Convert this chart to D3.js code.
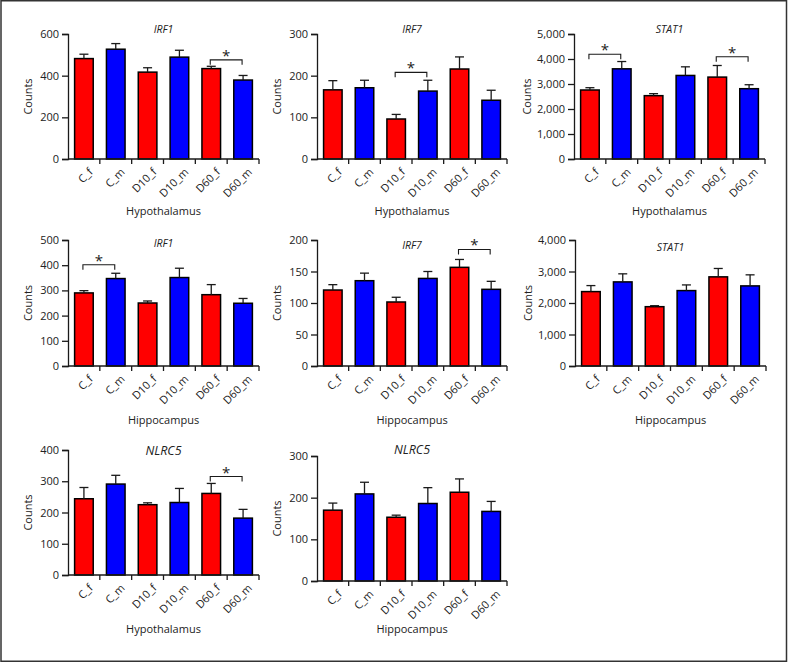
<!DOCTYPE html>
<html>
<head>
<meta charset="utf-8">
<script src="https://cdn.jsdelivr.net/npm/d3@7"></script>
<style>
  html, body { margin: 0; padding: 0; background: #fff; }
  svg { display: block; font-family: "Open Sans", "DejaVu Sans", sans-serif; }
</style>
</head>
<body>
<svg id="chart" width="788" height="663"></svg>
<script>
// ---------- data ----------
const categories = ["C_f", "C_m", "D10_f", "D10_m", "D60_f", "D60_m"];
const sexes = ["f", "m", "f", "m", "f", "m"];

const hypIRF1 = [482, 527, 417, 489, 434, 379];
const hypIRF1Err = [21, 27, 21, 33, 11, 22];
const hypIRF7 = [166, 171, 96, 163, 216, 141];
const hypIRF7Err = [22, 18, 11, 26, 29, 24];
const hypSTAT1 = [2760, 3607, 2533, 3342, 3276, 2812];
const hypSTAT1Err = [92, 292, 80, 345, 464, 159];
const hipIRF1 = [290, 347, 250, 351, 283, 249];
const hipIRF1Err = [9, 21, 8, 37, 40, 19];
const hipIRF7 = [120.6, 135.4, 101.6, 139, 156.6, 121.7];
const hipIRF7Err = [8.5, 12, 7.5, 11, 12.5, 12.7];
const hipSTAT1 = [2362, 2670, 1883, 2394, 2830, 2543];
const hipSTAT1Err = [191, 256, 32, 180, 266, 351];
const hypNLRC5 = [244, 291, 225, 232, 261, 182];
const hypNLRC5Err = [36, 28, 6, 45, 32, 28];
const hipNLRC5 = [170, 209, 153, 186, 213, 167];
const hipNLRC5Err = [17, 28, 5, 38, 32, 24];

const yTicksIRF1hyp = [0, 200, 400, 600];
const yTicksIRF7hyp = [0, 100, 200, 300];
const yTicksSTAT1hyp = [0, 1000, 2000, 3000, 4000, 5000];
const yTicksIRF1hip = [0, 100, 200, 300, 400, 500];
const yTicksIRF7hip = [0, 50, 100, 150, 200];
const yTicksSTAT1hip = [0, 1000, 2000, 3000, 4000];
const yTicksNLRC5hyp = [0, 100, 200, 300, 400];
const yTicksNLRC5hip = [0, 100, 200, 300];

// significance brackets: [fromIndex, toIndex, level]
const sigIRF1hyp = [[4, 5, 476]];
const sigIRF7hyp = [[2, 3, 208]];
const sigSTAT1hyp = [[0, 1, 4188], [4, 5, 4092]];
const sigIRF1hip = [[0, 1, 402]];
const sigIRF7hip = [[4, 5, 185]];
const sigNLRC5hyp = [[4, 5, 315]];

// ---------- panels (data + layout) ----------
const panels = [
  { gene: "IRF1", region: "Hypothalamus", vals: hypIRF1, errs: hypIRF1Err, ticks: yTicksIRF1hyp, sig: sigIRF1hyp,
    x0: 68, top: 34, bottom: 159, w: 191, titleY: 33, titleSize: 10.5, labelY: 215, countsOff: 36 },
  { gene: "IRF7", region: "Hypothalamus", vals: hypIRF7, errs: hypIRF7Err, ticks: yTicksIRF7hyp, sig: sigIRF7hyp,
    x0: 317, top: 34, bottom: 159, w: 190, titleY: 33, titleSize: 10.5, labelY: 215, countsOff: 36 },
  { gene: "STAT1", region: "Hypothalamus", vals: hypSTAT1, errs: hypSTAT1Err, ticks: yTicksSTAT1hyp, sig: sigSTAT1hyp,
    x0: 574, top: 34, bottom: 159, w: 191, titleY: 33, titleSize: 10.5, labelY: 215, countsOff: 43 },
  { gene: "IRF1", region: "Hippocampus", vals: hipIRF1, errs: hipIRF1Err, ticks: yTicksIRF1hip, sig: sigIRF1hip,
    x0: 68, top: 240, bottom: 366, w: 191, titleY: 247, titleSize: 10.5, labelY: 424, countsOff: 36 },
  { gene: "IRF7", region: "Hippocampus", vals: hipIRF7, errs: hipIRF7Err, ticks: yTicksIRF7hip, sig: sigIRF7hip,
    x0: 317, top: 240, bottom: 366, w: 190, titleY: 249, titleSize: 10.5, labelY: 424, countsOff: 36 },
  { gene: "STAT1", region: "Hippocampus", vals: hipSTAT1, errs: hipSTAT1Err, ticks: yTicksSTAT1hip, sig: [],
    x0: 575, top: 240, bottom: 366, w: 191, titleY: 251, titleSize: 10.5, labelY: 424, countsOff: 43 },
  { gene: "NLRC5", region: "Hypothalamus", vals: hypNLRC5, errs: hypNLRC5Err, ticks: yTicksNLRC5hyp, sig: sigNLRC5hyp,
    x0: 68, top: 450, bottom: 575, w: 191, titleY: 455, titleSize: 12.5, labelY: 633, countsOff: 36 },
  { gene: "NLRC5", region: "Hippocampus", vals: hipNLRC5, errs: hipNLRC5Err, ticks: yTicksNLRC5hip, sig: [],
    x0: 317, top: 456, bottom: 581, w: 190, titleY: 454, titleSize: 12.5, labelY: 633, countsOff: 36 }
];

const colors = { f: "#ff0000", m: "#0000ff" };
const ink = "#1a1a1a";
const fmt = d3.format(",");

const svg = d3.select("#chart");

// outer frame
svg.append("rect")
  .attr("x", 1).attr("y", 0.75).attr("width", 785.5).attr("height", 660.5)
  .attr("fill", "none").attr("stroke", "#333").attr("stroke-width", 1.5);

panels.forEach(p => {
  const g = svg.append("g");
  const x = d3.scaleBand().domain(categories).range([p.x0, p.x0 + p.w])
    .paddingInner(0.415).paddingOuter(0.2075);
  const yMax = p.ticks[p.ticks.length - 1];
  const y = d3.scaleLinear().domain([0, yMax]).range([p.bottom, p.top]);
  const cx = c => x(c) + x.bandwidth() / 2;

  // bars
  g.selectAll("rect.bar").data(categories).enter().append("rect")
    .attr("x", c => x(c))
    .attr("y", (c, i) => y(p.vals[i]))
    .attr("width", x.bandwidth())
    .attr("height", (c, i) => y(0) - y(p.vals[i]))
    .attr("fill", (c, i) => colors[sexes[i]])
    .attr("stroke", "#000").attr("stroke-width", 1.5);

  // error bars (upper only)
  categories.forEach((c, i) => {
    const xm = cx(c);
    const yTop = y(p.vals[i] + p.errs[i]);
    g.append("line").attr("x1", xm).attr("x2", xm)
      .attr("y1", y(p.vals[i])).attr("y2", yTop)
      .attr("stroke", ink).attr("stroke-width", 1.3);
    g.append("line").attr("x1", xm - 4.5).attr("x2", xm + 4.5)
      .attr("y1", yTop).attr("y2", yTop)
      .attr("stroke", ink).attr("stroke-width", 1.3);
  });

  // y axis
  const yAxis = d3.axisLeft(y).tickValues(p.ticks).tickFormat(fmt).tickSizeOuter(0).tickSize(6).tickPadding(3);
  const ya = g.append("g").attr("transform", `translate(${p.x0},0)`).call(yAxis);
  ya.select(".domain").attr("stroke", ink).attr("stroke-width", 1.3);
  ya.selectAll(".tick line").attr("stroke", ink).attr("stroke-width", 1.3);
  ya.selectAll(".tick text").attr("font-size", 11).attr("fill", "#222")
    .attr("font-family", "'Open Sans', sans-serif");

  // x axis (ticks at category boundaries)
  g.append("line").attr("x1", p.x0).attr("x2", p.x0 + p.w)
    .attr("y1", p.bottom).attr("y2", p.bottom)
    .attr("stroke", ink).attr("stroke-width", 1.3);
  categories.forEach((c, i) => {
    const bx = p.x0 + (i + 1) * x.step();
    g.append("line").attr("x1", bx).attr("x2", bx)
      .attr("y1", p.bottom).attr("y2", p.bottom + 5)
      .attr("stroke", ink).attr("stroke-width", 1.3);
  });
  g.selectAll("text.xl").data(categories).enter().append("text")
    .attr("transform", c => `translate(${cx(c) + 7},${p.bottom + 11}) rotate(-45)`)
    .attr("text-anchor", "end")
    .attr("dy", "0.35em")
    .attr("font-size", 11).attr("fill", "#222")
    .text(c => c);

  // title
  g.append("text").attr("x", p.x0 + p.w / 2).attr("y", p.titleY)
    .attr("text-anchor", "middle").attr("font-style", "italic")
    .attr("font-size", p.titleSize).attr("fill", "#222")
    .text(p.gene);

  // y label
  g.append("text")
    .attr("transform", `translate(${p.x0 - p.countsOff},${(p.top + p.bottom) / 2}) rotate(-90)`)
    .attr("text-anchor", "middle").attr("font-size", 11).attr("fill", "#222")
    .text("Counts");

  // x label
  g.append("text").attr("x", p.x0 + p.w / 2).attr("y", p.labelY)
    .attr("text-anchor", "middle").attr("font-size", 11).attr("fill", "#222")
    .text(p.region);

  // significance brackets
  p.sig.forEach(s => {
    const xa = cx(categories[s[0]]) - 1;
    const xb = cx(categories[s[1]]) - 1;
    const yl = y(s[2]);
    g.append("path")
      .attr("d", `M${xa},${yl + 5}V${yl}H${xb}V${yl + 5}`)
      .attr("fill", "none").attr("stroke", ink).attr("stroke-width", 1.1);
    g.append("text").attr("x", (xa + xb) / 2).attr("y", yl + 1)
      .attr("text-anchor", "middle").attr("font-size", 15).attr("fill", "#222")
      .text("*");
  });
});
</script>
</body>
</html>
